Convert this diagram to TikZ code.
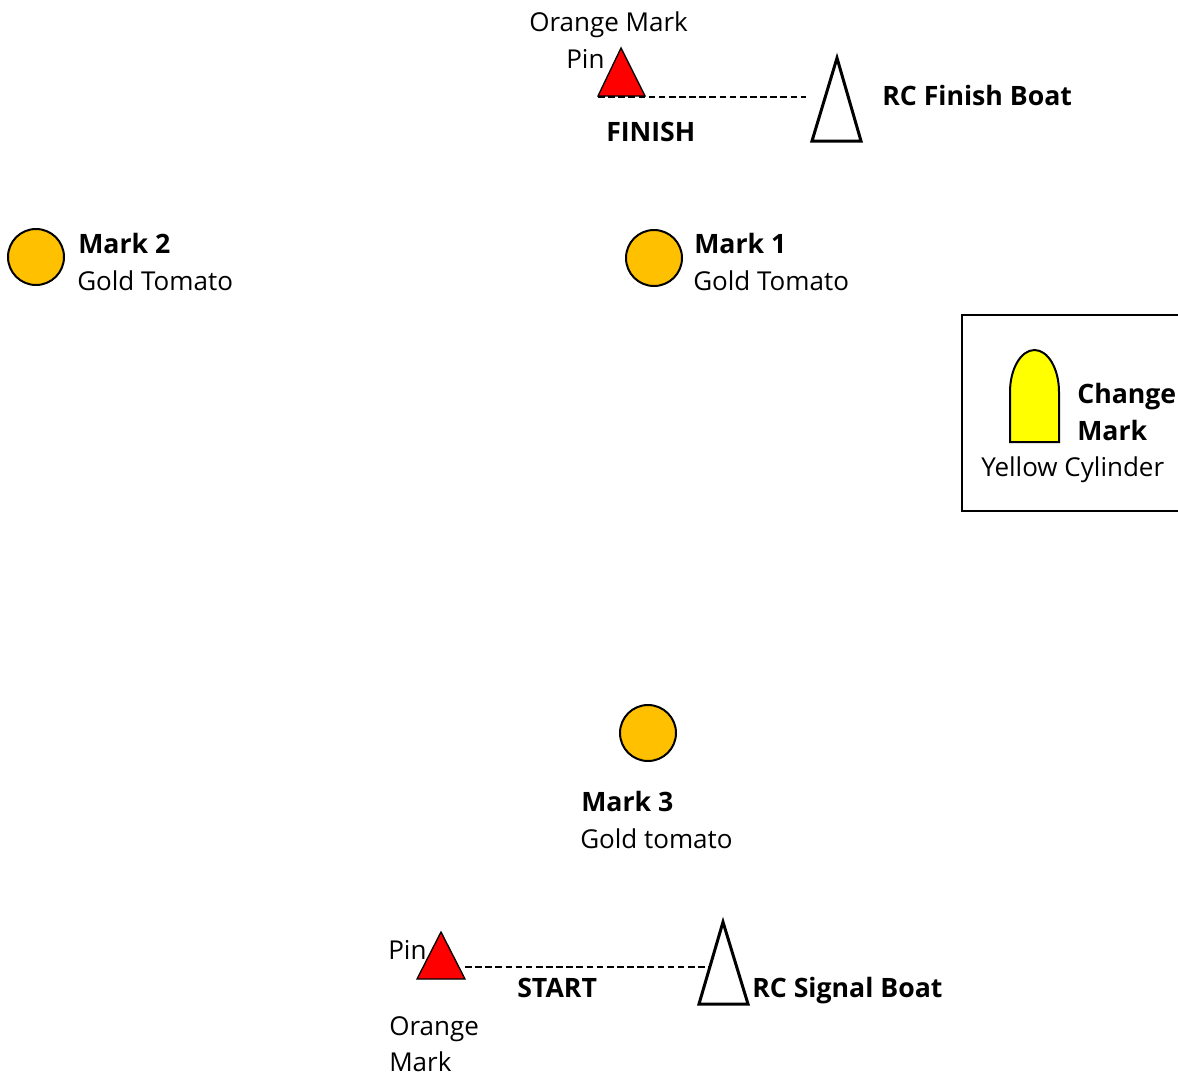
\documentclass[tikz,border=0pt]{standalone}
\usepackage{fontspec}
\setmainfont{Open Sans}
\usepackage{tikz}

\definecolor{gold}{HTML}{FFC000}
\definecolor{cylyellow}{HTML}{FFFF00}
\tikzset{
  lbl/.style={anchor=base west, inner sep=0pt, font=\fontsize{19.5}{27.75}\selectfont},
  blbl/.style={anchor=base west, inner sep=0pt, font=\fontsize{20}{27.75}\selectfont\bfseries},
  goldmark/.style={circle, draw=black, line width=1.5pt, fill=gold, minimum size=42pt, inner sep=0pt},
  pinmark/.style={draw=black, fill=red, line width=1pt},
  boat/.style={draw=black, fill=white, line width=2.25pt, line join=miter},
  courseline/.style={line width=1pt, dash pattern=on 5pt off 2.6pt}
}

\begin{document}
\begin{tikzpicture}[x=0.75pt, y=-0.75pt]
\useasboundingbox (0,0) rectangle (1178,1078);

% finish
\draw[pinmark] (598,96) -- (621,48) -- (645,96) -- cycle;
\draw[boat] (812,141) -- (837,58) -- (861,141) -- cycle;
\coordinate (finA) at (598,97);
\coordinate (finB) at (806,97);
\draw[courseline] (finA) -- (finB);
\node[lbl] (orangeTop) at (529,31) {Orange Mark};
\node[lbl] (pinTop) at (566,68) {Pin};
\node[blbl] (finish) at (606,141) {FINISH};
\node[blbl] (finBoat) at (882,105) {RC Finish Boat};

% marks
\node[goldmark] (mark2) at (36,257) {};
\node[blbl] (mark2a) at (78,253) {Mark 2};
\node[lbl] (mark2b) at (77,290) {Gold Tomato};
\node[goldmark] (mark1) at (654,258) {};
\node[blbl] (mark1a) at (694,253) {Mark 1};
\node[lbl] (mark1b) at (693,290) {Gold Tomato};
\node[goldmark] (mark3) at (648,733) {};
\node[blbl] (mark3a) at (581,811) {Mark 3};
\node[lbl] (mark3b) at (580,848) {Gold tomato};

% change mark
\draw[line width=1.5pt] (962,315) rectangle (1182,511);
\draw[draw=black, fill=cylyellow, line width=1.5pt] (1010,442) -- (1010,392) arc[start angle=180, end angle=360, x radius=24.5, y radius=42] -- (1059,442) -- cycle;
\node[blbl] (change) at (1077,403) {Change};
\node[blbl] (changeb) at (1077,440) {Mark};
\node[lbl] (cylinder) at (981,476) {Yellow Cylinder};

% start
\draw[pinmark] (417,979) -- (441,932) -- (465,979) -- cycle;
\draw[boat] (699,1004) -- (723,922) -- (748,1004) -- cycle;
\coordinate (startA) at (465,967);
\coordinate (startB) at (709,967);
\draw[courseline] (startA) -- (startB);
\node[lbl] (pinBot) at (388,959) {Pin};
\node[blbl] (start) at (517,997) {START};
\node[blbl] (sigBoat) at (752,997) {RC Signal Boat};
\node[lbl] (orangeBot) at (389,1035) {Orange};
\node[lbl] (orangeBotb) at (389,1071) {Mark};
\end{tikzpicture}
\end{document}
